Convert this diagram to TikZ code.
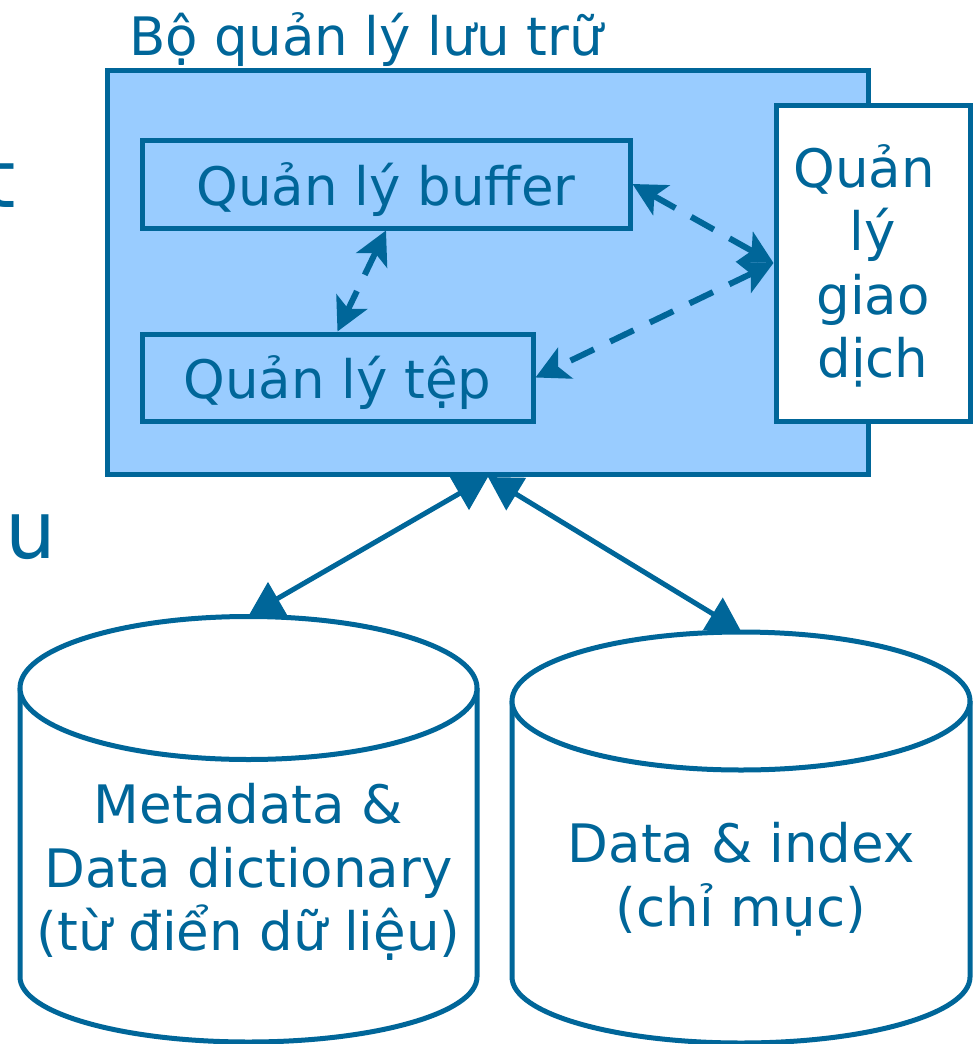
\documentclass[tikz,border=0pt]{standalone}
\usepackage{fontspec}
\setmainfont{DejaVu Sans}
\usetikzlibrary{arrows.meta}
\definecolor{dblue}{HTML}{006699}
\definecolor{lblue}{HTML}{99CCFF}
\begin{document}
\begin{tikzpicture}[x=1pt,y=-1pt,
  every node/.style={text=dblue, font=\fontsize{53}{63.5}\selectfont},
  box/.style={draw=dblue, line width=5pt, inner sep=0pt},
  oneline/.style={text height=48pt, text depth=6pt},
  solidarr/.style={draw=dblue, line width=5pt,
    {Triangle[length=33pt,width=37pt]}-{Triangle[length=33pt,width=37pt]}},
  dasharr/.style={draw=dblue, line width=6pt, dash pattern=on 26pt off 18pt,
    {Stealth[length=33pt,width=34pt,inset=8pt]}-{Stealth[length=33pt,width=34pt,inset=8pt]}},
  cyl/.style={draw=dblue, line width=5pt, fill=white},
  frag/.style={anchor=base west, inner sep=0pt, font=\fontsize{80}{96}\selectfont}]
\useasboundingbox (0,0) rectangle (976,1044);

% partial texts at the left edge
\node[frag] (fragt) at (-16,207) {t};
\node[frag] (fragu) at (5,558) {u};

% storage manager
\node[box, fill=lblue, minimum width=760.5pt, minimum height=404pt] (mgr) at (487.75,272) {};
\node[anchor=base west, inner sep=0pt] (title) at (129,55) {Bộ quản lý lưu trữ};
\node[box, oneline, fill=lblue, minimum width=488pt, minimum height=88pt] (buf) at (386,184) {Quản lý buffer};
\node[box, oneline, fill=lblue, minimum width=391pt, minimum height=87pt] (tep) at (337.5,377.5) {Quản lý tệp};
\node[box, fill=white, minimum width=194pt, minimum height=316pt] (gd) at (873,263) {};
\node[align=center, inner sep=0pt] (gdtext) at (873,266)
  {Quản\hspace*{18pt}\\lý\\giao\hspace*{18pt}\\dịch};

% cylinders
\draw[cyl] (20,688) -- (20,977) arc[start angle=180, end angle=0, x radius=228.5, y radius=65] -- (477,688);
\draw[cyl] (248.5,688) ellipse [x radius=228.5, y radius=71.5];
\node[align=center, inner sep=0pt] (meta) at (248.5,872) {Metadata \&\\Data dictionary\\(từ điển dữ liệu)};

\draw[cyl] (512,701) -- (512,977) arc[start angle=180, end angle=0, x radius=229, y radius=66] -- (970,701);
\draw[cyl] (741,701) ellipse [x radius=229, y radius=69];
\node[align=center, inner sep=0pt] (data) at (741,879) {Data \& index\\(chỉ mục)};

% connectors
\coordinate (apex) at (488,477);
\coordinate (ltop) at (249,615);
\coordinate (rtop) at (741,631);
\draw[solidarr] (apex) -- (ltop);
\draw[solidarr] (apex) -- (rtop);

\draw[dasharr] (buf.south) -- (tep.north);
\draw[dasharr] (buf.east) -- (gd.west);
\draw[dasharr] (gd.west) -- (tep.east);
\end{tikzpicture}
\end{document}
